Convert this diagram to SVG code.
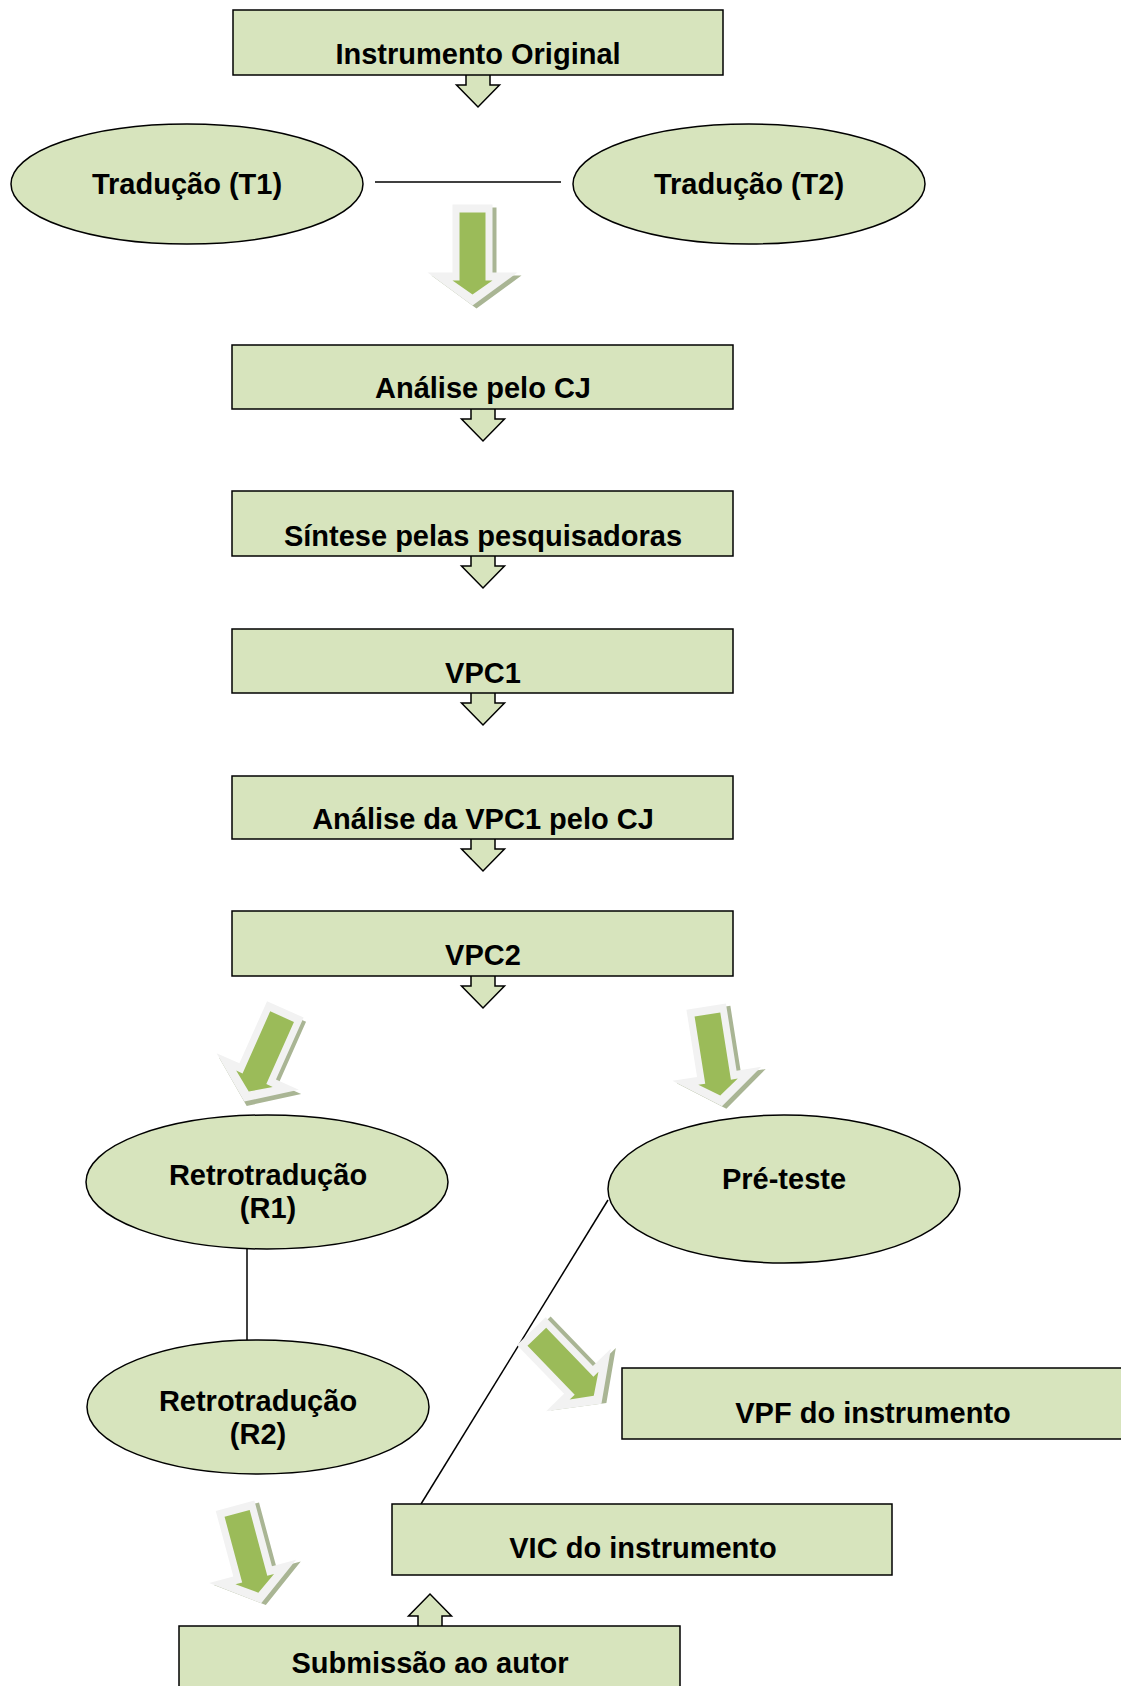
<svg xmlns="http://www.w3.org/2000/svg" xmlns:xlink="http://www.w3.org/1999/xlink" width="1121" height="1686" viewBox="0 0 1121 1686">
<style>
.box{fill:#d7e4bd;stroke:#000;stroke-width:1.5}
.ell{fill:#d7e4bd;stroke:#000;stroke-width:1.5}
.ln{stroke:#000;stroke-width:1.5;fill:none}
.blk{fill:#d7e4bd;stroke:#000;stroke-width:1.5;stroke-linejoin:miter}
.gsh{fill:#a9b594}
.glt{fill:#f2f2f2}
.ggr{fill:#9bbb59}
text{font-family:"Liberation Sans",Arial,sans-serif;font-weight:bold;font-size:29px;fill:#000;text-anchor:middle}
</style>
<defs>
<path id="blkdown" class="blk" d="M-12,0 V10 H-21.5 L0,32 L21.5,10 H12 V0"/>
<g id="g3d">
<path class="gsh" d="M-20,-50 H20 V18 H45 L0,51 L-45,18 H-20 Z" transform="translate(4,3)"/>
<path class="glt" d="M-20,-50 H20 V18 H45 L0,51 L-45,18 H-20 Z"/>
<path class="ggr" d="M-13,-42 H13 V26 H20 L0,40 L-20,26 H-13 Z"/>
</g>
</defs>
<rect width="1121" height="1686" fill="#fff"/>
<g id="connectors">
<use xlink:href="#blkdown" transform="translate(478,75)"/>
<use xlink:href="#blkdown" transform="translate(483,409)"/>
<use xlink:href="#blkdown" transform="translate(483,556)"/>
<use xlink:href="#blkdown" transform="translate(483,693)"/>
<use xlink:href="#blkdown" transform="translate(483,839)"/>
<use xlink:href="#blkdown" transform="translate(483,976)"/>
<use xlink:href="#blkdown" transform="translate(430,1626) scale(1,-1)"/>
<line class="ln" x1="375" y1="182" x2="561" y2="182"/>
<line class="ln" x1="247" y1="1249" x2="247" y2="1340"/>
<line class="ln" x1="608" y1="1200" x2="421" y2="1504"/>
<use xlink:href="#g3d" transform="translate(472.5,254.5)"/>
<use xlink:href="#g3d" transform="translate(265,1055) rotate(24)"/>
<use xlink:href="#g3d" transform="translate(714,1056) rotate(-9)"/>
<use xlink:href="#g3d" transform="translate(566,1367) rotate(-44)"/>
<use xlink:href="#g3d" transform="translate(248,1554) rotate(-15)"/>
</g>
<g id="n-instrumento"><rect class="box" x="233" y="10" width="490" height="65"/><text x="478" y="64">Instrumento Original</text></g>
<g id="n-t1"><ellipse class="ell" cx="187" cy="184" rx="176" ry="60"/><text x="187" y="194">Tradução (T1)</text></g>
<g id="n-t2"><ellipse class="ell" cx="749" cy="184" rx="176" ry="60"/><text x="749" y="194">Tradução (T2)</text></g>
<g id="n-analise"><rect class="box" x="232" y="345" width="501" height="64"/><text x="483" y="398">Análise pelo CJ</text></g>
<g id="n-sintese"><rect class="box" x="232" y="491" width="501" height="65"/><text x="483" y="546">Síntese pelas pesquisadoras</text></g>
<g id="n-vpc1"><rect class="box" x="232" y="629" width="501" height="64"/><text x="483" y="683">VPC1</text></g>
<g id="n-analise-vpc1"><rect class="box" x="232" y="776" width="501" height="63"/><text x="483" y="829">Análise da VPC1 pelo CJ</text></g>
<g id="n-vpc2"><rect class="box" x="232" y="911" width="501" height="65"/><text x="483" y="965">VPC2</text></g>
<g id="n-r1"><ellipse class="ell" cx="267" cy="1182" rx="181" ry="67"/><text x="268" y="1185">Retrotradução</text><text x="268" y="1218">(R1)</text></g>
<g id="n-preteste"><ellipse class="ell" cx="784" cy="1189" rx="176" ry="74"/><text x="784" y="1189">Pré-teste</text></g>
<g id="n-r2"><ellipse class="ell" cx="258" cy="1407" rx="171" ry="67"/><text x="258" y="1411">Retrotradução</text><text x="258" y="1444">(R2)</text></g>
<g id="n-vpf"><rect class="box" x="622" y="1368" width="510" height="71"/><text x="873" y="1423">VPF do instrumento</text></g>
<g id="n-vic"><rect class="box" x="392" y="1504" width="500" height="71"/><text x="643" y="1558">VIC do instrumento</text></g>
<g id="n-submissao"><rect class="box" x="179" y="1626" width="501" height="70"/><text x="430" y="1673">Submissão ao autor</text></g>
</svg>
